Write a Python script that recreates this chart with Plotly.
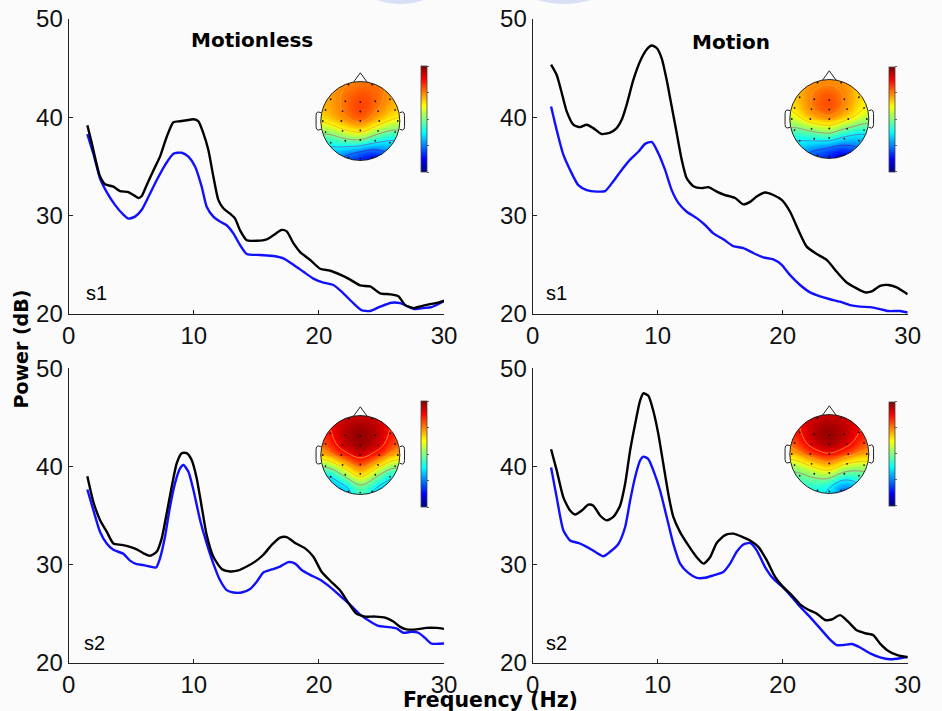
import numpy as np
import plotly.graph_objects as go

W, H = 942, 711

# ---------------- power spectra (Hz, dB) ----------------
# Motionless, subject s1
f_still_s1_k = [1.49, 1.84, 2.5, 2.9, 3.57, 4.1, 4.77, 5.17, 5.57, 5.84, 6.23, 6.77, 7.3, 7.83, 8.37, 8.9,
                9.43, 9.97, 10.37, 10.76, 11.16, 11.56, 11.96, 12.36, 12.9, 13.3, 13.7, 14.23, 15.03, 15.83,
                16.36, 17.03, 17.43, 17.96, 18.5, 19.3, 20.1, 20.9, 21.7, 22.5, 23.3, 24.1, 24.9, 25.7,
                26.35, 26.9, 27.55, 28.2, 28.9, 29.55, 30.0]
p_still_s1_k = [39.2, 37.4, 34.0, 33.2, 32.95, 32.5, 32.4, 32.1, 31.8, 32.0, 33.1, 34.6, 36.0, 38.0, 39.5, 39.6,
                39.7, 39.8, 39.6, 38.4, 36.7, 34.0, 31.6, 30.75, 30.2, 29.7, 28.5, 27.5, 27.45, 27.6,
                28.0, 28.55, 28.4, 27.2, 26.3, 25.5, 24.6, 24.4, 24.0, 23.5, 22.9, 22.8, 22.1, 22.0,
                21.8, 20.9, 20.6, 20.8, 21.0, 21.15, 21.35]
f_still_s1_b = [1.49, 1.97, 2.5, 3.04, 3.7, 4.37, 4.77, 5.3, 5.84, 6.37, 7.03, 7.7, 8.37, 9.03, 9.57, 10.1,
                10.63, 11.03, 11.56, 12.1, 12.6, 13.16, 13.7, 14.23, 15.3, 16.36, 17.16, 17.96, 18.76,
                19.56, 20.36, 21.16, 21.96, 22.75, 23.4, 24.1, 24.9, 25.8, 26.5, 27.15, 27.7, 28.35, 29.0, 30.0]
p_still_s1_b = [38.3, 36.3, 33.8, 32.4, 31.1, 30.1, 29.7, 29.9, 30.6, 31.9, 33.6, 35.15, 36.3, 36.4, 36.0, 35.0,
                32.95, 30.9, 29.9, 29.4, 29.05, 28.2, 27.0, 26.1, 26.0, 25.9, 25.66, 25.0, 24.3,
                23.6, 23.2, 22.95, 22.1, 21.1, 20.4, 20.3, 20.75, 21.15, 21.1, 20.75, 20.5, 20.6, 20.7, 21.3]

# Motion, subject s1
f_move_s1_k = [1.47, 1.92, 2.32, 2.72, 3.25, 3.79, 4.32, 4.85, 5.52, 6.19, 6.72, 7.12, 7.52, 8.05, 8.59, 9.12,
               9.52, 9.92, 10.32, 10.72, 11.12, 11.52, 11.92, 12.32, 12.85, 13.52, 14.05, 14.72, 15.39,
               16.19, 16.85, 17.39, 17.92, 18.59, 19.25, 19.92, 20.59, 21.25, 21.92, 22.72, 23.52, 24.32,
               25.12, 25.92, 26.59, 27.12, 27.79, 28.45, 29.12, 30.0]
p_move_s1_k = [45.35, 44.3, 42.5, 40.6, 39.25, 39.0, 39.25, 38.9, 38.3, 38.45, 38.9, 39.75, 41.3, 43.8, 45.7, 46.9,
               47.3, 47.05, 46.0, 43.8, 41.1, 38.4, 35.7, 33.8, 33.0, 32.8, 32.9, 32.45, 32.1,
               31.8, 31.15, 31.4, 31.95, 32.35, 32.1, 31.6, 30.4, 28.55, 26.85, 26.1, 25.5, 24.3,
               23.2, 22.6, 22.2, 22.3, 22.85, 22.95, 22.7, 22.0]
f_move_s1_b = [1.47, 1.92, 2.45, 2.99, 3.65, 4.32, 5.12, 5.79, 6.45, 7.12, 7.79, 8.45, 8.99, 9.52, 10.05, 10.59,
               11.12, 11.65, 12.32, 13.12, 13.79, 14.45, 15.25, 16.05, 16.85, 17.65, 18.45, 19.25, 19.92,
               20.59, 21.39, 22.19, 22.99, 23.79, 24.59, 25.39, 26.19, 26.99, 27.79, 28.45, 29.39, 30.0]
p_move_s1_b = [41.1, 38.7, 36.2, 34.65, 33.1, 32.6, 32.45, 32.5, 33.5, 34.65, 35.7, 36.5, 37.3, 37.5, 36.35, 34.65,
               32.6, 31.3, 30.4, 29.75, 29.05, 28.2, 27.6, 26.9, 26.7, 26.2, 25.75, 25.55, 25.0,
               23.95, 22.95, 22.2, 21.8, 21.5, 21.25, 20.9, 20.75, 20.7, 20.5, 20.3, 20.3, 20.15]

# Motionless, subject s2
f_still_s2_k = [1.49, 1.97, 2.5, 3.04, 3.57, 4.24, 4.9, 5.44, 5.97, 6.5, 7.03, 7.43, 7.83, 8.23, 8.63, 9.03,
                9.43, 9.83, 10.23, 10.63, 11.03, 11.56, 12.23, 12.9, 13.56, 14.23, 14.9, 15.56, 16.23,
                16.9, 17.43, 18.1, 18.9, 19.56, 20.2, 20.9, 21.7, 22.36, 23.0, 23.7, 24.5, 25.3, 25.95,
                26.5, 27.0, 27.8, 28.6, 29.4, 30.0]
p_still_s2_k = [39.0, 36.4, 34.55, 33.35, 32.15, 32.0, 31.8, 31.55, 31.15, 30.9, 31.3, 32.65, 35.2, 37.9, 40.3, 41.35,
                41.35, 40.65, 38.8, 35.9, 33.0, 30.8, 29.55, 29.3, 29.4, 29.8, 30.3, 31.0, 32.0,
                32.75, 32.8, 32.2, 31.65, 30.8, 29.3, 28.35, 27.35, 26.1, 25.0, 24.7, 24.7, 24.6, 24.2,
                23.65, 23.4, 23.4, 23.55, 23.55, 23.45]
f_still_s2_b = [1.49, 1.97, 2.5, 3.04, 3.57, 4.37, 4.9, 5.44, 5.97, 6.5, 6.98, 7.3, 7.7, 8.1, 8.5, 8.9,
                9.17, 9.57, 9.97, 10.5, 11.03, 11.56, 12.1, 12.63, 13.16, 13.83, 14.5, 15.03, 15.56,
                16.23, 16.9, 17.56, 18.1, 18.62, 19.3, 20.1, 20.9, 21.7, 22.5, 23.3, 24.1, 24.75,
                25.4, 26.2, 26.75, 27.4, 27.95, 28.5, 29.0, 30.0]
p_still_s2_b = [37.65, 35.55, 33.35, 32.15, 31.5, 31.1, 30.4, 30.05, 29.95, 29.8, 29.7, 30.65, 32.85, 35.9, 38.3, 39.8,
                40.15, 39.45, 37.6, 34.55, 32.15, 30.1, 28.4, 27.4, 27.15, 27.15, 27.5, 28.25, 29.2,
                29.5, 29.8, 30.25, 30.1, 29.45, 28.95, 28.45, 27.7, 26.8, 25.9, 24.9, 24.2, 23.75,
                23.65, 23.5, 23.05, 23.15, 23.05, 22.5, 21.95, 21.95]

# Motion, subject s2
f_move_s2_k = [1.47, 1.92, 2.45, 2.99, 3.39, 3.92, 4.45, 4.85, 5.39, 5.92, 6.45, 6.99, 7.39, 7.79, 8.19, 8.59,
               8.85, 9.25, 9.65, 10.05, 10.45, 10.85, 11.25, 11.79, 12.45, 13.12, 13.65, 14.19, 14.72,
               15.39, 16.05, 16.72, 17.39, 18.05, 18.72, 19.39, 20.05, 20.72, 21.39, 22.05, 22.72, 23.39,
               23.92, 24.59, 25.25, 25.92, 26.59, 27.25, 27.79, 28.45, 29.12, 30.0]
p_move_s2_k = [41.75, 39.6, 36.85, 35.5, 35.1, 35.5, 36.1, 36.0, 35.0, 34.5, 34.85, 36.0, 38.2, 41.6, 44.3, 46.7,
               47.45, 47.2, 45.65, 43.3, 40.25, 37.2, 34.85, 33.3, 31.95, 30.75, 30.1, 30.75, 32.2,
               33.0, 33.15, 32.85, 32.45, 31.8, 30.45, 28.75, 27.7, 26.9, 25.95, 25.4, 25.0, 24.35,
               24.4, 24.85, 24.15, 23.3, 23.0, 22.8, 21.95, 21.2, 20.8, 20.55]
f_move_s2_b = [1.47, 1.92, 2.45, 2.99, 3.65, 4.32, 4.99, 5.65, 6.19, 6.85, 7.39, 7.79, 8.19, 8.59, 8.85, 9.25,
               9.65, 10.19, 10.72, 11.25, 11.79, 12.45, 13.12, 13.79, 14.45, 15.25, 15.79, 16.32, 16.85,
               17.39, 17.92, 18.59, 19.25, 20.05, 20.72, 21.39, 22.19, 22.99, 23.79, 24.32, 24.85, 25.52,
               26.19, 26.99, 27.79, 28.59, 29.39, 30.0]
p_move_s2_b = [39.9, 36.85, 33.5, 32.45, 32.2, 31.8, 31.3, 30.85, 31.3, 32.1, 33.8, 36.5, 38.9, 40.6, 41.0, 40.75,
               39.6, 37.55, 34.85, 32.1, 30.1, 29.15, 28.65, 28.65, 28.9, 29.25, 30.1, 31.3, 32.05,
               32.2, 31.45, 29.75, 28.55, 27.65, 26.7, 25.7, 24.65, 23.5, 22.35, 21.8, 21.8, 21.9,
               21.55, 20.95, 20.55, 20.35, 20.45, 20.6]

x_ticks = [0, 10, 20, 30]
y_ticks = [20, 30, 40, 50]
column_titles = ["Motionless", "Motion"]
subject_labels = ["s1", "s1", "s2", "s2"]

# ---------------- scalp maps ----------------
# electrode layout (unit head radius, +y = nose)
elec_names = ["Fp1", "Fp2", "F7", "F3", "Fz", "F4", "F8", "FT7", "FC3", "FCz", "FC4", "FT8",
              "T7", "C3", "Cz", "C4", "T8", "TP7", "CP3", "CPz", "CP4", "TP8",
              "P7", "P3", "Pz", "P4", "P8", "O1", "Oz", "O2"]
elec_x = [-0.3, 0.3, -0.75, -0.38, 0.0, 0.38, 0.75, -0.88, -0.45, 0.0, 0.45, 0.88,
          -0.95, -0.48, 0.0, 0.48, 0.95, -0.88, -0.45, 0.0, 0.45, 0.88,
          -0.75, -0.38, 0.0, 0.38, 0.75, -0.3, 0.0, 0.3]
elec_y = [0.92, 0.92, 0.55, 0.5, 0.48, 0.5, 0.55, 0.28, 0.25, 0.24, 0.25, 0.28,
          0.0, 0.0, 0.0, 0.0, 0.0, -0.28, -0.25, -0.24, -0.25, -0.28,
          -0.55, -0.5, -0.48, -0.5, -0.55, -0.92, -0.95, -0.92]
# relative scalp power (0 = bottom of colour bar, 1 = top)
topo_still_s1 = [0.74, 0.76, 0.70, 0.78, 0.82, 0.80, 0.72, 0.70, 0.76, 0.84, 0.76, 0.68,
                 0.66, 0.74, 0.82, 0.68, 0.62, 0.50, 0.66, 0.74, 0.60, 0.45,
                 0.30, 0.40, 0.45, 0.32, 0.25, 0.20, 0.14, 0.06]
topo_move_s1 = [0.72, 0.72, 0.68, 0.78, 0.82, 0.76, 0.66, 0.64, 0.78, 0.84, 0.74, 0.62,
                0.58, 0.72, 0.78, 0.68, 0.56, 0.45, 0.55, 0.62, 0.50, 0.40,
                0.30, 0.33, 0.38, 0.26, 0.22, 0.18, 0.14, 0.05]
topo_still_s2 = [0.92, 0.92, 0.86, 0.97, 1.00, 0.97, 0.86, 0.80, 0.95, 1.00, 0.95, 0.80,
                 0.70, 0.86, 0.96, 0.86, 0.70, 0.48, 0.70, 0.86, 0.70, 0.48,
                 0.22, 0.45, 0.70, 0.45, 0.26, 0.20, 0.60, 0.25]
topo_move_s2 = [0.92, 0.92, 0.86, 0.97, 1.00, 0.96, 0.88, 0.80, 0.94, 1.00, 0.94, 0.80,
                0.68, 0.84, 0.92, 0.82, 0.72, 0.52, 0.66, 0.78, 0.62, 0.55,
                0.40, 0.48, 0.56, 0.36, 0.38, 0.36, 0.42, 0.12]

# MATLAB-style jet colour map
jet = [[0.0, "rgb(0,0,128)"], [0.125, "rgb(0,0,255)"], [0.375, "rgb(0,255,255)"],
       [0.625, "rgb(255,255,0)"], [0.875, "rgb(255,0,0)"], [1.0, "rgb(128,0,0)"]]


def px(xp):
    return xp / W


def py(yp):
    return 1 - yp / H


def scalp_grid(values, n=81, sigma=0.24):
    """Smooth electrode values onto a grid inside the head circle."""
    g = np.linspace(-1, 1, n)
    gx, gy = np.meshgrid(g, g)
    ex = np.array(elec_x)[:, None, None]
    ey = np.array(elec_y)[:, None, None]
    v = np.array(values)[:, None, None]
    w = np.exp(-((gx - ex) ** 2 + (gy - ey) ** 2) / (2 * sigma ** 2))
    z = (w * v).sum(0) / w.sum(0)
    z[gx ** 2 + gy ** 2 > 1.0] = np.nan
    return g, z


fig = go.Figure()

# panel geometry in pixels: (x_left, x_right, y_top, y_bottom)
panels = [
    (68.7, 444.0, 19.0, 314.0),
    (532.7, 907.7, 19.0, 314.0),
    (68.7, 444.0, 368.3, 662.7),
    (532.7, 907.7, 368.3, 662.7),
]
spectra = [
    (f_still_s1_k, p_still_s1_k, f_still_s1_b, p_still_s1_b),
    (f_move_s1_k, p_move_s1_k, f_move_s1_b, p_move_s1_b),
    (f_still_s2_k, p_still_s2_k, f_still_s2_b, p_still_s2_b),
    (f_move_s2_k, p_move_s2_k, f_move_s2_b, p_move_s2_b),
]
# scalp map placement: head centre (px), head radius (px), colour bar (x, y_top, y_bottom)
heads = [
    (360.3, 121.0, 39.5, 420.7, 66.0, 171.7),
    (829.3, 119.0, 39.5, 889.3, 66.7, 171.7),
    (360.3, 455.0, 39.5, 420.7, 401.0, 506.7),
    (829.3, 454.0, 39.5, 889.3, 401.7, 506.0),
]
topos = [topo_still_s1, topo_move_s1, topo_still_s2, topo_move_s2]

layout_axes = {}
for i, ((xl, xr, yt, yb), (fk, pk, fb, pb)) in enumerate(zip(panels, spectra)):
    n = i + 1
    xa, ya = ("x", "y") if n == 1 else (f"x{n}", f"y{n}")
    fig.add_trace(go.Scatter(x=fb, y=pb, mode="lines", xaxis=xa, yaxis=ya,
                             line=dict(color="#1010ff", width=2.4, shape="spline", smoothing=0.6),
                             showlegend=False, name=f"{subject_labels[i]} blue"))
    fig.add_trace(go.Scatter(x=fk, y=pk, mode="lines", xaxis=xa, yaxis=ya,
                             line=dict(color="#000000", width=2.4, shape="spline", smoothing=0.6),
                             showlegend=False, name=f"{subject_labels[i]} black"))
    common = dict(showline=True, linecolor="#222", linewidth=1.3, ticks="inside", ticklen=4,
                  tickcolor="#222", tickwidth=1, showgrid=False, zeroline=False,
                  tickfont=dict(family="Liberation Sans, Arial, sans-serif", size=24, color="#111"))
    layout_axes[f"xaxis{'' if n == 1 else n}"] = dict(
        domain=[px(xl), px(xr)], range=[0, 30], tickvals=x_ticks, anchor=ya, **common)
    layout_axes[f"yaxis{'' if n == 1 else n}"] = dict(
        domain=[py(yb), py(yt)], range=[20, 50], tickvals=y_ticks, anchor=xa, **common)

shapes = []
for i, ((cx, cy, r, cbx, cbt, cbb), vals) in enumerate(zip(heads, topos)):
    n = i + 5
    xa, ya = f"x{n}", f"y{n}"
    g, z = scalp_grid(vals)
    fig.add_trace(go.Heatmap(
        x=g, y=g, z=z, xaxis=xa, yaxis=ya, colorscale=jet, zmin=0, zmax=1,
        hoverinfo="skip", showscale=True,
        colorbar=dict(x=px(cbx), xanchor="left", y=py(cbt), yanchor="top",
                      len=cbb - cbt, lenmode="pixels", thickness=6, thicknessmode="pixels",
                      outlinewidth=0.8, outlinecolor="#444", xpad=0, ypad=0,
                      showticklabels=False, ticks="outside", ticklen=2, tickcolor="#666",
                      tickvals=[0.0, 0.25, 0.5, 0.75, 1.0])))
    fig.add_trace(go.Contour(
        x=g, y=g, z=z, xaxis=xa, yaxis=ya, showscale=False, hoverinfo="skip",
        contours=dict(coloring="lines", start=0.125, end=0.95, size=0.125),
        line=dict(color="rgba(20,20,20,0.7)", width=0.6, smoothing=1.0)))
    fig.add_trace(go.Scatter(
        x=elec_x, y=elec_y, xaxis=xa, yaxis=ya, mode="markers", text=elec_names,
        marker=dict(size=1.8, color="#111"), hoverinfo="text", showlegend=False))
    # axes sized so one head-radius unit equals r pixels
    layout_axes[f"xaxis{n}"] = dict(domain=[px(cx - 1.3 * r), px(cx + 1.3 * r)], range=[-1.3, 1.3],
                                    visible=False, anchor=ya)
    layout_axes[f"yaxis{n}"] = dict(domain=[py(cy + 1.2 * r), py(cy - 1.4 * r)], range=[-1.2, 1.4],
                                    visible=False, anchor=xa)
    outline = dict(color="#222", width=1)
    shapes.append(dict(type="circle", xref=xa, yref=ya, x0=-1, y0=-1, x1=1, y1=1, line=outline))
    shapes.append(dict(type="path", xref=xa, yref=ya, line=outline,
                       path="M -0.17 0.985 L 0 1.22 L 0.17 0.985"))
    for s in (-1, 1):
        shapes.append(dict(type="path", xref=xa, yref=ya, line=outline,
                           path=(f"M {s*0.995} 0.21 L {s*1.07} 0.23 Q {s*1.12} 0.22 {s*1.12} 0.14 "
                                 f"L {s*1.12} -0.14 Q {s*1.12} -0.22 {s*1.07} -0.23 L {s*0.995} -0.21")))

# faint logo remnants along the top edge
for x0, x1 in ((373, 428), (533, 595)):
    shapes.append(dict(type="circle", xref="paper", yref="paper", layer="below",
                       x0=px(x0), x1=px(x1), y0=py(4), y1=py(-14),
                       fillcolor="rgba(175,188,235,0.45)", line=dict(width=0)))

annotations = [
    dict(text=column_titles[0], x=px(251.5), y=py(40.5)),
    dict(text=column_titles[1], x=px(730.8), y=py(41.5)),
]
for a in annotations:
    a.update(xref="paper", yref="paper", showarrow=False, xanchor="center", yanchor="middle",
             font=dict(family="DejaVu Sans", size=20, color="#000"))
for lab, (xc, yc) in zip(subject_labels, [(96.7, 293), (556.7, 293), (94.3, 643), (556.7, 642.7)]):
    annotations.append(dict(text=lab, x=px(xc), y=py(yc), xref="paper", yref="paper", showarrow=False,
                            xanchor="center", yanchor="middle",
                            font=dict(family="Liberation Sans, Arial, sans-serif", size=20, color="#000")))
annotations.append(dict(text="Power (dB)", x=px(20.5), y=py(349), xref="paper", yref="paper",
                        showarrow=False, textangle=-90, xanchor="center", yanchor="middle",
                        font=dict(family="DejaVu Sans", size=19, color="#000")))
annotations.append(dict(text="Frequency (Hz)", x=px(490), y=py(700), xref="paper", yref="paper",
                        showarrow=False, xanchor="center", yanchor="middle",
                        font=dict(family="DejaVu Sans", size=20.5, color="#000")))
for a in annotations:
    if a["font"]["family"] == "DejaVu Sans":
        a["text"] = f"<b>{a['text']}</b>"

fig.update_layout(
    width=W, height=H, margin=dict(l=0, r=0, t=0, b=0, autoexpand=False),
    paper_bgcolor="#fbfbfb", plot_bgcolor="rgba(0,0,0,0)",
    showlegend=False, shapes=shapes, annotations=annotations, **layout_axes)

fig.write_html("out.html")
